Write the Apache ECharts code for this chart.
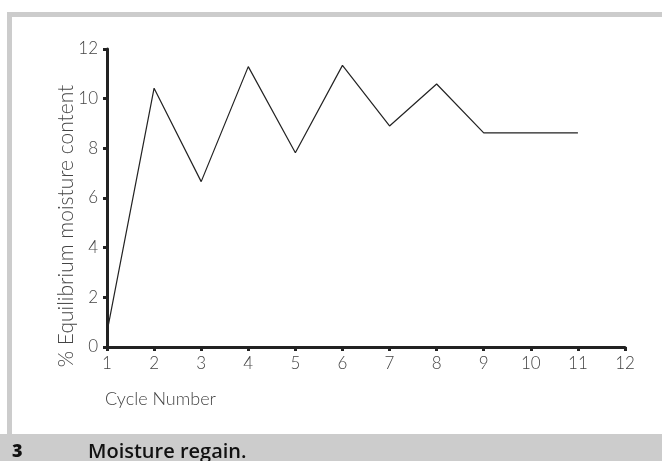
<!DOCTYPE html>
<html>
<head>
<meta charset="utf-8">
<script src="https://cdn.jsdelivr.net/npm/echarts@6/dist/echarts.min.js"></script>
<style>
html,body{margin:0;padding:0;background:#fff;}
#chart{width:662px;height:461px;}
</style>
</head>
<body>
<div id="chart"></div>
<script>
var cycles = [1, 2, 3, 4, 5, 6, 7, 8, 9, 10, 11];
var moisture = [0.6, 10.42, 6.66, 11.29, 7.82, 11.34, 8.9, 10.59, 8.62, 8.62, 8.62];
var xTicks = [1, 2, 3, 4, 5, 6, 7, 8, 9, 10, 11, 12];
var yTicks = [0, 2, 4, 6, 8, 10, 12];
var yTitle = '% Equilibrium moisture content';
var xTitle = 'Cycle Number';
var figNum = '3';
var caption = 'Moisture regain.';

var chart = echarts.init(document.getElementById('chart'), null, {renderer: 'canvas'});
var axisFont = 'Lato, "Open Sans", sans-serif';
chart.setOption({
  animation: false,
  backgroundColor: '#fff',
  graphic: [
    {type: 'rect', shape: {x: 7, y: 12, width: 655, height: 5}, style: {fill: '#cccccc'}, z: 10},
    {type: 'rect', shape: {x: 7, y: 12, width: 5, height: 422}, style: {fill: '#cccccc'}, z: 10},
    {type: 'rect', shape: {x: 0, y: 434, width: 662, height: 27}, style: {fill: '#cccccc'}, z: 10},
    {type: 'text', x: 12, y: 452, style: {text: figNum, font: '800 18px "Open Sans", sans-serif', fill: '#111', verticalAlign: 'middle'}, z: 11},
    {type: 'text', x: 88, y: 452, style: {text: caption, font: '600 20px "Open Sans", sans-serif', fill: '#111', verticalAlign: 'middle'}, z: 11},
    {type: 'text', x: 105, y: 399, style: {text: xTitle, font: '300 18px ' + axisFont, fill: '#444', verticalAlign: 'middle'}, z: 11},
    {type: 'text', x: 66, y: 226, rotation: Math.PI / 2, style: {text: yTitle, font: '300 21px ' + axisFont, fill: '#444', align: 'center', verticalAlign: 'middle'}, z: 11}
  ],
  grid: {left: 107, right: 37, top: 49, bottom: 114, containLabel: false},
  xAxis: {
    type: 'value', min: 1, max: 12, interval: 1,
    axisLine: {show: true, lineStyle: {color: '#222', width: 3}},
    axisTick: {show: true, length: 4, lineStyle: {color: '#222', width: 3}},
    axisLabel: {color: '#444', fontSize: 17, fontWeight: 300, fontFamily: axisFont, margin: 8,
      formatter: function (v) { return xTicks.indexOf(v) >= 0 ? String(v) : ''; }},
    splitLine: {show: false}
  },
  yAxis: {
    type: 'value', min: 0, max: 12, interval: 2,
    axisLine: {show: true, lineStyle: {color: '#222', width: 3}},
    axisTick: {show: true, length: 4, lineStyle: {color: '#222', width: 3}},
    axisLabel: {color: '#444', fontSize: 17, fontWeight: 300, fontFamily: axisFont, margin: 9,
      formatter: function (v) { return yTicks.indexOf(v) >= 0 ? String(v) : ''; }},
    splitLine: {show: false}
  },
  series: [{
    type: 'line',
    data: cycles.map(function (c, i) { return [c, moisture[i]]; }),
    showSymbol: false,
    symbol: 'none',
    lineStyle: {color: '#222', width: 1.2},
    clip: false
  }]
});
</script>
</body>
</html>
